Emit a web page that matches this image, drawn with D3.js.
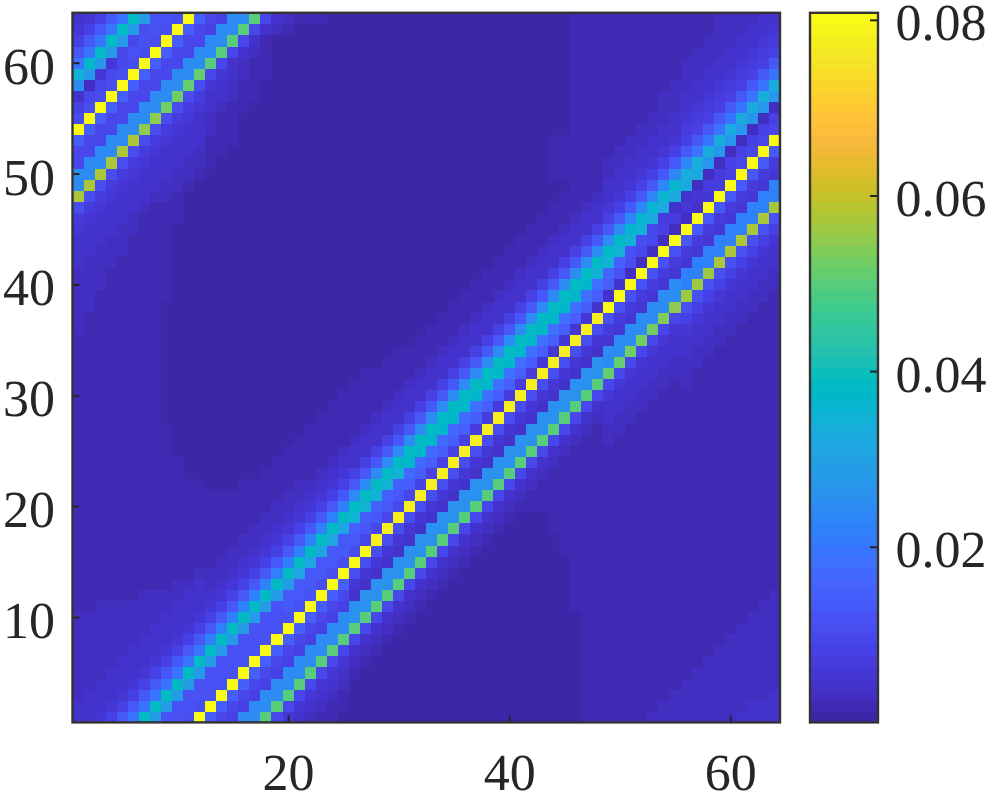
<!DOCTYPE html>
<html><head><meta charset="utf-8">
<script src="https://cdn.jsdelivr.net/npm/d3@7"></script>
<style>html,body{margin:0;background:#fff}svg{display:block}text{font-family:"Liberation Serif",serif;fill:#262626;text-rendering:geometricPrecision}</style>
</head><body><svg id="c" width="997" height="794"></svg>
<script>
// Heat values in thousandths; rows[0] is y=1 (bottom), each row runs x=1..64 (groups of ten)
const rows = [
[5,5,6,8,13,20,38,29,12,12, 11,80,15,9,8,24,25,50,9,6, 4,3,2,2,1,1,1,1,1,1, 1,1,1,1,1,1,1,1,1,1, 1,1,1,1,1,1,2,2,2,2, 2,2,3,3,3,3,3,3,3,3, 4,4,4,4],
[4,5,5,6,8,13,20,38,29,12, 12,11,80,15,9,8,24,25,50,9, 6,4,3,2,2,1,1,1,1,1, 1,1,1,1,1,1,1,1,1,1, 1,1,1,1,1,1,2,2,2,2, 2,2,2,3,3,3,3,3,3,3, 3,4,4,4],
[3,4,5,5,6,8,13,20,38,29, 12,12,12,80,15,9,8,24,25,50, 9,6,4,3,2,1,1,1,1,1, 1,1,1,1,1,1,1,1,1,1, 1,1,1,1,1,1,2,2,2,2, 2,2,2,2,3,3,3,3,3,3, 3,3,3,4],
[3,3,4,5,5,6,8,13,20,38, 29,12,12,12,80,15,9,8,24,25, 50,9,6,4,3,1,1,1,1,1, 1,1,1,1,1,1,1,1,1,1, 1,1,1,1,1,1,2,2,2,2, 2,2,2,2,2,3,3,3,3,3, 3,3,3,3],
[3,3,3,4,5,5,6,8,13,20, 38,29,12,12,12,80,15,9,8,24, 25,50,9,6,4,2,1,1,1,1, 1,1,1,1,1,1,1,1,1,1, 1,1,1,1,1,1,2,2,2,2, 2,2,2,2,2,2,3,3,3,3, 3,3,3,3],
[3,3,3,3,4,5,5,6,8,13, 20,38,29,12,12,12,80,15,9,8, 24,25,50,9,6,3,2,1,1,1, 1,1,1,1,1,1,1,1,1,1, 1,1,1,1,1,1,2,2,2,2, 2,2,2,2,2,2,2,3,3,3, 3,3,3,3],
[3,3,3,3,3,4,5,5,6,8, 13,20,38,29,12,12,12,80,15,9, 8,24,25,50,9,4,3,2,1,1, 1,1,1,1,1,1,1,1,1,1, 1,1,1,1,1,1,2,2,2,2, 2,2,2,2,2,2,2,2,3,3, 3,3,3,3],
[3,3,3,3,3,3,4,5,5,6, 8,13,22,38,29,12,12,12,80,15, 9,8,24,25,50,9,4,3,2,1, 1,1,1,1,1,1,1,1,1,1, 1,1,1,1,1,1,2,2,2,2, 2,2,2,2,2,2,2,2,2,3, 3,3,3,3],
[3,3,3,3,3,3,3,4,5,5, 6,8,13,22,38,29,12,12,12,80, 15,9,8,24,25,50,9,4,3,2, 1,1,1,1,1,1,1,1,1,1, 1,1,1,1,1,1,2,2,2,2, 2,2,2,2,2,2,2,2,2,2, 3,3,3,3],
[3,3,3,3,3,3,3,3,4,5, 5,6,8,13,22,38,29,12,12,12, 80,15,9,8,24,26,50,9,4,3, 2,1,1,1,1,1,1,1,1,1, 1,1,1,1,1,1,2,2,2,2, 2,2,2,2,2,2,2,2,2,2, 2,3,3,3],
[2,2,3,3,3,3,3,3,3,4, 5,5,6,8,13,22,38,29,12,13, 12,80,15,9,8,26,26,50,9,4, 3,2,1,1,1,1,1,1,1,1, 1,1,1,1,1,2,2,2,2,2, 2,2,2,2,2,2,2,2,2,2, 2,2,3,3],
[2,2,2,2,2,2,3,3,3,3, 4,5,4,6,8,13,22,38,29,13, 13,12,80,15,9,5,26,26,50,9, 4,3,2,1,1,1,1,1,1,1, 1,1,1,1,1,2,2,2,2,2, 2,2,2,2,2,2,2,2,2,2, 2,2,2,3],
[2,2,2,2,2,2,2,2,2,3, 3,4,3,4,6,8,13,22,38,29, 13,13,11,80,15,6,5,26,26,50, 9,4,3,2,1,1,1,1,1,1, 1,1,1,1,1,2,2,2,2,2, 2,2,2,2,2,2,2,2,2,2, 2,2,2,2],
[2,2,2,2,2,2,2,2,2,2, 2,3,3,3,4,6,8,13,22,38, 31,13,13,11,80,11,6,5,26,26, 50,9,4,3,2,1,1,1,1,1, 1,1,1,1,1,2,2,2,2,2, 2,2,2,2,2,2,2,2,2,2, 2,2,2,2],
[2,2,2,2,2,2,2,2,2,2, 2,2,2,3,3,4,6,8,13,22, 38,31,13,13,11,80,11,6,5,26, 26,50,9,4,3,2,1,1,1,1, 1,1,1,1,1,2,2,2,2,2, 2,2,2,2,2,2,2,2,2,2, 2,2,2,2],
[2,2,2,2,2,2,2,2,2,2, 2,2,2,2,3,3,4,6,8,13, 22,38,31,13,13,11,80,11,6,5, 26,26,50,9,4,3,2,1,1,1, 1,1,1,1,2,2,2,2,2,2, 2,2,2,2,2,2,2,2,2,2, 2,2,2,2],
[2,2,2,2,2,2,2,2,2,2, 2,2,2,2,2,3,3,4,6,8, 13,22,38,31,13,13,9,78,11,6, 5,26,26,50,9,4,3,2,1,1, 1,1,1,1,2,2,2,2,2,2, 2,2,2,2,2,2,2,2,2,2, 2,2,2,2],
[2,2,2,2,2,2,2,2,2,2, 2,2,2,2,2,2,3,3,4,6, 8,13,22,38,31,15,13,9,78,11, 6,5,26,26,50,9,4,3,2,1, 1,1,1,2,2,2,2,2,2,2, 2,2,2,2,2,2,2,2,2,2, 2,2,2,2],
[2,2,2,2,2,2,2,2,2,2, 2,2,2,2,2,2,2,3,3,4, 6,8,13,22,38,35,15,13,9,78, 11,6,5,26,26,50,9,4,3,2, 1,1,1,2,2,2,2,2,2,2, 2,2,2,2,2,2,2,2,2,2, 2,2,2,2],
[2,2,2,2,2,2,2,2,2,2, 2,2,2,2,2,2,2,2,3,3, 4,6,8,13,22,38,35,15,13,9, 78,11,6,5,26,26,50,9,4,3, 2,2,2,2,2,2,2,2,2,2, 2,2,2,2,2,2,2,2,2,2, 2,2,2,2],
[2,2,2,2,2,2,2,2,2,2, 2,2,2,2,2,2,2,2,2,3, 3,4,6,8,13,24,38,35,15,13, 9,78,11,6,5,26,26,50,9,4, 3,2,2,2,2,2,2,2,2,2, 2,2,2,2,2,2,2,2,2,2, 2,2,2,2],
[2,2,2,2,2,2,2,2,2,2, 2,2,1,1,1,2,2,2,2,2, 3,3,4,6,8,13,24,38,35,15, 15,8,78,11,6,5,26,26,50,9, 4,3,2,2,2,2,2,2,2,2, 2,2,2,2,2,2,2,2,2,2, 2,2,2,2],
[2,2,2,2,2,2,2,2,2,2, 1,1,1,1,1,1,1,2,2,2, 2,2,3,4,6,8,13,24,38,35, 17,15,8,78,11,6,5,26,26,50, 9,4,3,2,2,2,2,2,2,2, 2,2,2,2,2,2,2,2,2,2, 2,2,2,2],
[2,2,2,2,2,2,2,2,2,2, 1,1,1,1,1,1,1,1,2,2, 2,2,2,3,4,5,8,13,24,38, 37,17,15,8,78,11,6,5,26,26, 50,9,4,3,2,2,2,2,2,2, 2,2,2,2,2,2,2,2,2,2, 2,2,2,2],
[2,2,2,2,2,2,2,2,2,1, 1,1,1,1,1,1,1,1,1,2, 2,2,2,2,3,4,5,8,13,24, 38,37,17,15,8,78,11,6,5,26, 26,50,9,4,3,2,2,2,2,2, 2,2,2,2,2,2,2,2,2,2, 2,2,2,2],
[2,2,2,2,2,2,2,2,2,1, 1,1,1,1,1,1,1,1,1,1, 2,2,2,2,2,3,4,5,8,13, 24,38,37,17,15,8,78,11,6,5, 26,26,50,9,4,3,2,2,3,2, 2,2,2,2,2,2,2,2,2,2, 2,2,2,2],
[2,2,2,2,2,2,2,2,2,1, 1,1,1,1,1,1,1,1,1,1, 1,2,2,2,2,2,3,4,5,8, 13,24,38,37,17,15,7,78,11,6, 5,26,26,50,9,4,3,2,3,3, 2,2,2,2,2,2,2,2,2,2, 2,2,2,2],
[2,2,2,2,2,2,2,2,1,1, 1,1,1,1,1,1,1,1,1,1, 1,1,2,2,2,2,2,3,4,5, 8,13,24,38,37,17,15,7,78,11, 6,5,26,26,50,9,4,3,4,3, 3,2,2,2,2,2,2,2,2,2, 2,2,2,2],
[2,2,2,2,2,2,2,2,1,1, 1,1,1,1,1,1,1,1,1,1, 1,1,1,2,2,2,2,2,3,4, 5,8,13,24,38,37,18,15,7,78, 11,6,5,26,26,50,9,4,5,4, 3,3,2,2,2,2,2,2,2,2, 2,2,2,2],
[2,2,2,2,2,2,2,2,1,1, 1,1,1,1,1,1,1,1,1,1, 1,1,1,1,2,2,2,2,2,3, 4,5,8,13,24,38,37,18,15,7, 78,11,6,5,26,26,50,9,6,5, 4,3,3,2,2,2,2,2,2,2, 2,2,2,2],
[2,2,2,2,2,2,2,2,1,1, 1,1,1,1,1,1,1,1,1,1, 1,1,1,1,1,2,2,2,2,2, 3,4,5,8,13,24,38,37,18,15, 7,78,11,6,5,26,26,50,10,6, 5,4,3,3,2,3,2,2,2,2, 2,2,2,2],
[2,2,2,2,2,2,2,2,1,1, 1,1,1,1,1,1,1,1,1,1, 1,1,1,1,1,1,2,2,2,2, 2,3,4,5,8,13,24,38,37,18, 15,7,78,11,6,5,26,26,51,10, 6,5,4,3,3,3,2,2,2,2, 2,2,2,2],
[2,2,2,2,2,2,2,2,1,1, 1,1,1,1,1,1,1,1,1,1, 1,1,1,1,1,1,1,1,2,2, 2,2,3,4,5,8,13,24,38,37, 18,15,6,78,11,6,5,26,24,51, 10,6,5,4,3,3,3,2,2,2, 2,2,2,2],
[2,2,2,2,2,2,2,2,1,1, 1,1,1,1,1,1,1,1,1,1, 1,1,1,1,1,1,1,1,1,2, 2,2,2,3,4,5,8,13,24,38, 37,18,15,6,78,11,6,5,24,24, 52,10,6,5,4,4,3,3,2,2, 2,2,2,2],
[2,2,2,2,2,2,2,2,1,1, 1,1,1,1,1,1,1,1,1,1, 1,1,1,1,1,1,1,1,1,1, 1,2,2,2,3,4,5,8,13,24, 38,37,18,15,6,78,11,6,6,24, 24,53,10,6,5,5,4,3,3,2, 2,2,2,2],
[3,2,2,2,2,2,2,2,1,1, 1,1,1,1,1,1,1,1,1,1, 1,1,1,1,1,1,1,1,1,1, 1,1,2,2,2,3,4,5,8,13, 24,38,37,18,15,6,78,11,7,6, 24,24,53,10,6,6,5,4,3,3, 2,2,2,2],
[3,2,2,2,2,2,2,2,1,1, 1,1,1,1,1,1,1,1,1,1, 1,1,1,1,1,1,1,1,1,1, 1,1,1,2,2,2,3,4,5,8, 13,24,38,37,18,14,6,78,12,7, 6,24,24,54,10,8,6,5,4,3, 3,2,2,2],
[3,3,2,2,2,2,2,2,1,1, 1,1,1,1,1,1,1,1,1,1, 1,1,1,1,1,1,1,1,1,1, 1,1,1,1,2,2,2,3,4,5, 8,13,24,38,37,18,14,5,80,12, 7,6,24,24,55,12,8,6,5,4, 3,3,2,2],
[3,3,2,2,2,2,2,2,2,1, 1,1,1,1,1,1,1,1,1,1, 1,1,1,1,1,1,1,1,1,1, 1,1,1,1,1,2,2,2,3,4, 5,8,13,24,38,37,18,14,5,80, 12,7,6,24,24,56,12,8,6,5, 4,3,3,2],
[3,3,3,2,2,2,2,2,2,1, 1,1,1,1,1,1,1,1,1,1, 1,1,1,1,1,1,1,1,1,1, 1,1,1,1,1,1,2,2,2,3, 4,5,8,13,24,38,37,18,14,5, 80,12,7,6,24,22,56,12,8,6, 5,4,3,3],
[3,3,3,2,2,2,2,2,2,1, 1,1,1,1,1,1,1,1,1,1, 1,1,1,1,1,1,1,1,1,1, 1,1,1,1,1,1,1,2,2,2, 3,4,5,8,13,24,38,35,16,12, 3,80,12,7,6,22,22,56,12,8, 6,5,4,3],
[4,3,3,3,2,2,2,2,2,1, 1,1,1,1,1,1,1,1,1,1, 1,1,1,1,1,1,1,1,1,1, 1,1,1,1,1,1,1,1,2,2, 2,3,4,5,8,13,24,38,35,14, 11,3,80,12,7,6,22,22,57,12, 8,6,5,4],
[4,4,3,3,3,2,2,2,2,1, 1,1,1,1,1,1,1,1,1,1, 1,1,1,1,1,1,1,1,1,1, 1,1,1,1,1,1,1,1,1,2, 2,2,3,4,5,8,13,24,38,35, 12,10,3,80,12,7,6,22,22,57, 12,8,6,5],
[5,4,4,3,3,2,2,2,2,1, 1,1,1,1,1,1,1,1,1,1, 1,1,1,1,1,1,1,1,1,1, 1,1,1,1,1,1,1,1,1,1, 2,2,2,3,4,5,8,13,24,38, 35,11,9,3,80,13,7,6,22,22, 57,12,8,6],
[6,5,4,4,3,3,2,2,2,1, 1,1,1,1,1,1,1,1,1,1, 1,1,1,1,1,1,1,1,1,1, 1,1,1,1,1,1,1,1,1,1, 1,2,2,2,3,4,5,8,13,24, 36,35,10,8,3,80,13,7,6,22, 22,57,12,8],
[7,6,5,4,4,3,2,2,2,2, 1,1,1,1,1,1,1,1,1,1, 1,1,1,1,1,1,1,1,1,1, 1,1,1,1,1,1,1,1,1,1, 1,1,2,2,2,3,4,5,8,13, 23,36,32,7,7,3,80,13,7,6, 22,22,57,12],
[11,7,6,5,4,4,3,2,2,2, 1,1,1,1,1,1,1,1,1,1, 1,1,1,1,1,1,1,1,1,1, 1,1,1,1,1,1,1,1,1,1, 1,1,1,2,2,2,3,4,6,8, 13,23,36,32,5,6,5,80,13,7, 6,22,22,57],
[58,11,7,6,5,4,4,3,3,2, 1,1,1,1,1,1,1,1,1,1, 1,1,1,1,1,1,1,1,1,1, 1,1,1,1,1,1,1,1,1,1, 1,1,1,1,2,2,2,3,5,6, 8,13,23,36,32,4,6,6,80,13, 7,6,22,22],
[25,58,11,7,6,5,4,4,3,3, 2,1,1,1,1,1,1,1,1,1, 1,1,1,1,1,1,1,1,1,1, 1,1,1,1,1,1,1,1,1,1, 1,1,1,1,1,2,2,2,4,5, 6,8,13,23,36,32,3,7,7,80, 13,7,6,22],
[24,25,58,11,7,6,5,4,4,3, 3,2,1,1,1,1,1,1,1,1, 1,1,1,1,1,1,1,1,1,1, 1,1,1,1,1,1,1,1,1,1, 1,1,1,2,2,2,2,2,3,4, 5,6,8,13,23,33,32,3,7,8, 80,13,7,6],
[9,24,25,58,11,7,6,5,4,4, 3,3,2,1,1,1,1,1,1,1, 1,1,1,1,1,1,1,1,1,1, 1,1,1,1,1,1,1,1,1,1, 1,1,1,2,2,2,2,2,3,3, 4,5,6,8,13,23,33,27,3,8, 9,80,13,7],
[9,9,24,25,57,11,7,6,5,4, 4,3,2,2,1,1,1,1,1,1, 1,1,1,1,1,1,1,1,1,1, 1,1,1,1,1,1,1,1,1,1, 1,1,1,2,2,2,2,2,2,3, 3,4,5,6,8,13,20,33,27,3, 8,10,80,13],
[15,9,9,24,25,57,11,7,6,5, 4,4,2,2,2,1,1,1,1,1, 1,1,1,1,1,1,1,1,1,1, 1,1,1,1,1,1,1,1,1,1, 1,1,1,2,2,2,2,2,2,2, 3,3,4,5,6,8,13,20,33,27, 3,8,10,80],
[80,15,9,9,24,25,55,11,7,6, 5,4,3,2,2,1,1,1,1,1, 1,1,1,1,1,1,1,1,1,1, 1,1,1,1,1,1,1,1,1,1, 1,1,1,1,1,2,2,2,2,2, 2,3,3,4,5,7,8,13,20,32, 27,3,8,10],
[11,80,15,9,9,24,25,55,11,7, 6,5,3,2,2,1,1,1,1,1, 1,1,1,1,1,1,1,1,1,1, 1,1,1,1,1,1,1,1,1,1, 1,1,1,1,1,2,2,2,2,2, 2,2,3,3,4,6,7,8,13,20, 32,27,3,8],
[8,11,80,15,9,9,24,25,53,11, 7,6,4,3,2,2,1,1,1,1, 1,1,1,1,1,1,1,1,1,1, 1,1,1,1,1,1,1,1,1,1, 1,1,1,1,1,2,2,2,2,2, 2,2,2,3,3,5,6,7,8,13, 20,32,27,3],
[4,10,11,80,15,9,9,24,25,53, 11,7,5,4,3,2,2,1,1,1, 1,1,1,1,1,1,1,1,1,1, 1,1,1,1,1,1,1,1,1,1, 1,1,1,1,1,2,2,2,2,2, 2,2,2,3,3,4,5,6,7,8, 13,20,34,27],
[25,3,10,11,80,15,9,9,24,25, 51,11,6,4,3,2,2,1,1,1, 1,1,1,1,1,1,1,1,1,1, 1,1,1,1,1,1,1,1,1,1, 1,1,1,1,1,2,2,2,2,2, 2,2,2,2,3,3,4,5,6,7, 8,13,20,34],
[35,27,6,10,11,80,15,9,9,24, 25,51,9,6,4,3,2,2,1,1, 1,1,1,1,1,1,1,1,1,1, 1,1,1,1,1,1,1,1,1,1, 1,1,1,1,1,2,2,2,2,2, 2,2,2,2,2,3,3,4,5,6, 7,8,13,20],
[20,37,27,6,10,11,80,15,9,9, 24,25,50,9,5,3,2,2,1,1, 1,1,1,1,1,1,1,1,1,1, 1,1,1,1,1,1,1,1,1,1, 1,1,1,1,1,2,2,2,2,2, 2,2,2,2,2,3,3,3,4,5, 6,7,8,13],
[13,20,38,29,9,12,11,80,15,9, 9,24,25,50,9,5,3,2,1,1, 1,1,1,1,1,1,1,1,1,1, 1,1,1,1,1,1,1,1,1,1, 1,1,1,1,1,2,2,2,2,2, 2,2,2,2,2,2,3,3,3,4, 5,6,7,8],
[8,13,20,38,29,10,12,11,80,15, 9,9,24,25,50,9,5,2,1,1, 1,1,1,1,1,1,1,1,1,1, 1,1,1,1,1,1,1,1,1,1, 1,1,1,1,1,2,2,2,2,2, 2,2,2,2,2,2,2,3,3,3, 4,5,6,7],
[6,8,13,20,38,29,11,12,11,80, 15,9,8,24,25,50,9,5,3,2, 1,1,1,1,1,1,1,1,1,1, 1,1,1,1,1,1,1,1,1,1, 1,1,1,1,1,2,2,2,2,2, 2,2,2,2,2,2,2,2,3,3, 3,4,5,6],
[5,6,8,13,20,38,29,12,12,11, 80,15,9,8,24,25,50,9,5,3, 2,2,2,1,1,1,1,1,1,1, 1,1,1,1,1,1,1,1,1,1, 1,1,1,1,1,2,2,2,2,2, 2,2,2,2,2,2,2,2,3,3, 3,3,4,5]
];
const xTicks = [20,40,60];
const yTicks = [10,20,30,40,50,60];
const cbTicks = [0.02,0.04,0.06,0.08];
const parula = [[.2422,.1504,.6603],[.2504,.165,.7076],[.2578,.1818,.7511],[.2647,.1978,.7952],[.2706,.2147,.8364],[.2751,.2342,.871],[.2783,.2559,.8991],[.2803,.2782,.9221],[.2813,.3006,.9414],[.281,.3228,.9579],[.2795,.3447,.9717],[.276,.3667,.9829],[.2699,.3892,.9906],[.2602,.4123,.9952],[.244,.4358,.9988],[.2206,.4603,.9973],[.1963,.4847,.9892],[.1834,.5074,.9798],[.1786,.5289,.9682],[.1764,.5499,.952],[.1687,.5703,.9359],[.154,.5902,.9218],[.146,.6091,.9079],[.138,.6276,.8973],[.1248,.6459,.8883],[.1113,.6635,.8763],[.0952,.6798,.8598],[.0689,.6948,.8394],[.0297,.7082,.8163],[.0036,.7203,.7917],[.0067,.7312,.766],[.0433,.7411,.7394],[.0964,.75,.712],[.1408,.7584,.6842],[.1717,.767,.6554],[.1938,.7758,.6251],[.2161,.7843,.5923],[.247,.7918,.5567],[.2906,.7973,.5188],[.3406,.8008,.4789],[.3909,.8029,.4354],[.4456,.8024,.3909],[.5044,.7993,.348],[.5616,.7942,.3045],[.6174,.7876,.2612],[.672,.7793,.2227],[.7242,.7698,.191],[.7738,.7598,.1646],[.8203,.7498,.1535],[.8634,.7406,.1596],[.9035,.733,.1774],[.9393,.7288,.21],[.9728,.7298,.2394],[.9956,.7434,.2371],[.997,.7659,.2199],[.9952,.7893,.2028],[.9892,.8136,.1885],[.9786,.8386,.1766],[.9676,.8639,.1643],[.961,.889,.1537],[.9597,.9135,.1423],[.9628,.9373,.1265],[.9691,.9606,.1064],[.9769,.9839,.0805]];
const colors = parula.map(c => d3.rgb(c[0]*255,c[1]*255,c[2]*255).formatHex());

const svg = d3.select('#c');
const x = d3.scaleLinear().domain([0.5,64.5]).range([72.5,780]);
const y = d3.scaleLinear().domain([0.5,64.5]).range([722.4,12.8]);
const vMax = 0.0808;
const color = d3.scaleQuantize().domain([0,vMax]).range(colors);
const cbY = d3.scaleLinear().domain([0,vMax]).range([722.4,12.8]);

const cells = rows.flatMap((r,j)=>r.map((v,i)=>({col:i+1,row:j+1,v:v/1000})));
svg.append('g').attr('shape-rendering','crispEdges').selectAll('rect').data(cells).join('rect')
  .attr('x',d=>x(d.col-.5)).attr('y',d=>y(d.row+.5))
  .attr('width',d=>x(d.col+.5)-x(d.col-.5)+.5).attr('height',d=>y(d.row-.5)-y(d.row+.5)+.5)
  .attr('fill',d=>color(d.v));

const cbBand = colors.map((c,i)=>({c,i}));
svg.append('g').attr('shape-rendering','crispEdges').selectAll('rect').data(cbBand).join('rect')
  .attr('x',810).attr('width',68)
  .attr('y',d=>cbY((d.i+1)*vMax/64)).attr('height',d=>cbY(d.i*vMax/64)-cbY((d.i+1)*vMax/64)+.5)
  .attr('fill',d=>d.c);

function style(g,anchor){
  g.select('.domain').remove();
  g.selectAll('.tick line').attr('stroke','#262626').attr('stroke-width',2);
  g.selectAll('.tick text').attr('font-size',52).attr('text-anchor',anchor).attr('fill','#262626');
}
svg.append('g').attr('transform','translate(0,722.4)')
  .call(d3.axisBottom(x).tickValues(xTicks).tickSize(-7).tickFormat(d3.format('d')))
  .call(g=>{style(g,'middle');g.selectAll('.tick text').attr('y',0).attr('dy',67.6);});
svg.append('g').attr('transform','translate(72.5,0)')
  .call(d3.axisLeft(y).tickValues(yTicks).tickSize(-7).tickFormat(d3.format('d')))
  .call(g=>{style(g,'end');g.selectAll('.tick text').attr('x',-17.5).attr('dy',20.5);});
svg.append('g').attr('transform','translate(878,0)')
  .call(d3.axisRight(cbY).tickValues(cbTicks).tickSize(-8).tickFormat(d3.format('.2f')))
  .call(g=>{style(g,'start');g.selectAll('.tick text').attr('x',17.5).attr('dy',20);});

[[72.5,12.8,707.5,709.6],[810,12.8,68,709.6]].forEach(b=>svg.append('rect')
  .attr('x',b[0]).attr('y',b[1]).attr('width',b[2]).attr('height',b[3])
  .attr('fill','none').attr('stroke','#333').attr('stroke-width',2.4));
</script></body></html>
